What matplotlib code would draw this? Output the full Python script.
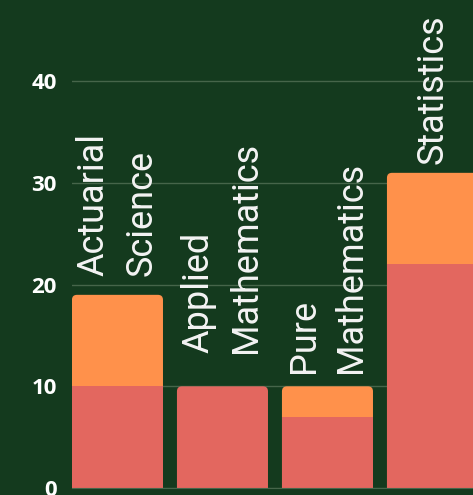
import matplotlib.pyplot as plt
from matplotlib.patches import FancyBboxPatch, Rectangle

# data
categories = ["Actuarial\nScience", "Applied\nMathematics", "Pure\nMathematics", "Statistics"]
bottom_vals = [10, 10, 7, 22]
top_vals = [9, 0, 3, 9]
label_pad = [1.9, 3.3, 1.3, 0.9]
yticks = [0, 10, 20, 30, 40]

BG = "#143a1e"
RED = "#e3675f"
ORANGE = "#ff914b"
GRID = "#46654a"

W, H = 473, 495
fig = plt.figure(figsize=(W / 100, H / 100), dpi=100, facecolor=BG)
ax = fig.add_axes([72 / W, 7 / H, 1 - 72 / W, 488 / H])
ax.set_facecolor(BG)

ax.set_xlim(-0.433, 3.386)
ax.set_ylim(0, 48)

width = 0.867
# px per data unit, used to keep the rounded corners circular
px_x = 105.0
px_y = 488 / 48
radius = 5 / px_x
aspect = px_x / px_y

for i, (b, t) in enumerate(zip(bottom_vals, top_vals)):
    total = b + t
    top_color = ORANGE if t > 0 else RED
    box = FancyBboxPatch((i - width / 2, -2), width, total + 2,
                         boxstyle=f"round,pad=0,rounding_size={radius}",
                         mutation_aspect=aspect, fc=top_color, ec="none",
                         zorder=2)
    ax.add_patch(box)
    if t > 0:
        ax.add_patch(Rectangle((i - width / 2, 0), width, b, fc=RED,
                               ec="none", zorder=3))
    ax.text(i, total + label_pad[i], categories[i], rotation=90,
            ha="center", va="bottom", multialignment="left",
            linespacing=1.42, color="#f4f4f4", fontsize=26,
            family="Roboto", zorder=4)

ax.set_yticks(yticks)
ax.set_yticklabels([str(v) for v in yticks], fontsize=16, fontweight="bold",
                   color="white", family="Open Sans")
ax.tick_params(axis="y", length=0, pad=11)
ax.set_xticks([])
ax.grid(axis="y", color=GRID, lw=1, zorder=0)
ax.set_axisbelow(True)
for s in ["top", "right", "left"]:
    ax.spines[s].set_visible(False)
ax.spines["bottom"].set_color(GRID)
ax.spines["bottom"].set_zorder(5)

fig.savefig("out.png", dpi=100, facecolor=BG)
